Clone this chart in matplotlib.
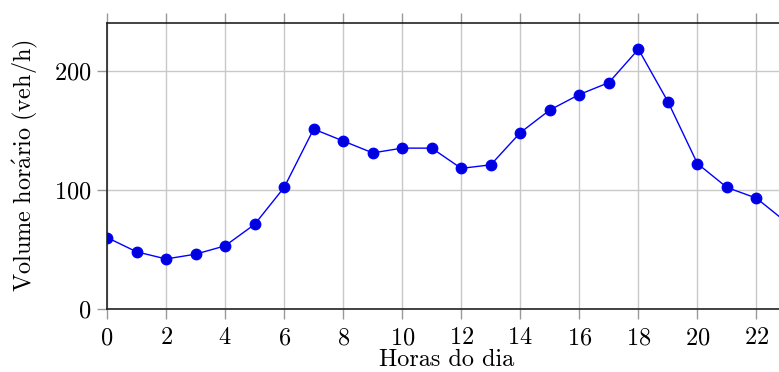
import matplotlib
matplotlib.use("Agg")
import matplotlib.pyplot as plt

hours = list(range(24))
volume = [60, 48, 42, 46, 53, 71, 102, 151, 141, 131, 135, 135,
          118, 121, 148, 167, 180, 190, 218, 174, 122, 102, 93, 73]
xticks = [0, 2, 4, 6, 8, 10, 12, 14, 16, 18, 20, 22]
yticks = [0, 100, 200]

plt.rcParams['font.family'] = 'cmr10'
plt.rcParams['mathtext.fontset'] = 'cm'
plt.rcParams['axes.formatter.use_mathtext'] = True

W, H = 779, 372
fig = plt.figure(figsize=(W / 100, H / 100), dpi=100)
left, right, bottom, top = 107, 786, 309, 23
ax = fig.add_axes([left / W, (H - bottom) / H, (right - left) / W, (bottom - top) / H])

ax.plot(hours, volume, color='#0000ff', linewidth=1.0, marker='o',
        markersize=7.5, markerfacecolor='#0000dd', markeredgecolor='#0000ff',
        clip_on=True, zorder=3)

ax.set_xlim(0, 23)
ax.set_ylim(0, 240)
ax.set_xticks(xticks)
ax.set_yticks(yticks)
ax.grid(True, color='#c8c8c8', linewidth=1.0)
ax.set_axisbelow(True)
ax.tick_params(axis='both', direction='out', length=7, width=1.0,
               color='#999999', labelsize=17.5)
ax.tick_params(axis='x', top=True, pad=6)
ax.tick_params(axis='y', pad=4)
for s in ['left', 'bottom', 'top']:
    ax.spines[s].set_color('#222222')
    ax.spines[s].set_linewidth(1.2)
ax.spines['right'].set_visible(False)

ax.set_xlabel('Horas do dia', fontsize=17.5, labelpad=0)
ax.set_ylabel(r'$\mathrm{Volume\ hor\acute{a}rio\ (veh/h)}$', fontsize=17.5, labelpad=10)

fig.savefig('out.png', dpi=100)
